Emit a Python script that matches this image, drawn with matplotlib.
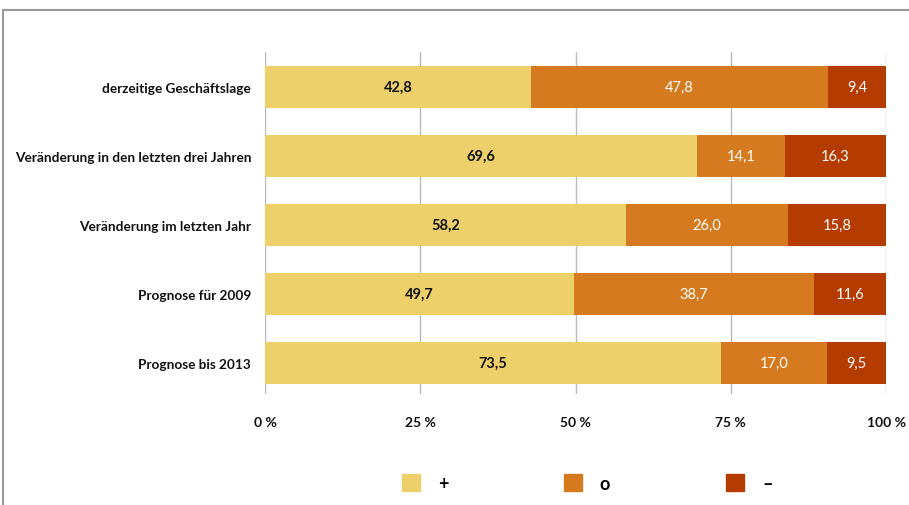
import matplotlib.pyplot as plt
from matplotlib.patches import Patch
from matplotlib.lines import Line2D

plt.rcParams['font.family'] = ['Lato', 'DejaVu Sans']

# Werte (%)
kategorien = ['derzeitige Geschäftslage',
              'Veränderung in den letzten drei Jahren',
              'Veränderung im letzten Jahr',
              'Prognose für 2009',
              'Prognose bis 2013']
plus = [42.8, 69.6, 58.2, 49.7, 73.5]
null = [47.8, 14.1, 26.0, 38.7, 17.0]
minus = [9.4, 16.3, 15.8, 11.6, 9.5]
ticks = [0, 25, 50, 75, 100]
tick_labels = ['0 %', '25 %', '50 %', '75 %', '100 %']

farben = ['#EDD06A', '#D57A1F', '#B53C00']
textfarben = ['#111111', 'white', 'white']

fig = plt.figure(figsize=(9.09, 5.06), dpi=100)
ax = fig.add_axes([265/909, 1-395/506, (886-265)/909, (395-53)/506])

y = range(len(kategorien))
links = [0]*len(kategorien)
for serie, farbe, tf in zip([plus, null, minus], farben, textfarben):
    ax.barh(y, serie, left=links, height=0.6, color=farbe, zorder=2)
    for i, (l, v) in enumerate(zip(links, serie)):
        ax.text(l + v/2, i, f'{v:.1f}'.replace('.', ','), ha='center', va='center',
                color=tf, fontsize=10.5, fontweight='bold' if tf != 'white' else 'normal', zorder=3)
    links = [a + b for a, b in zip(links, serie)]

ax.set_xlim(0, 100)
ax.set_ylim(4.45, -0.507)
ax.set_xticks(ticks)
ax.set_xticklabels(tick_labels, fontsize=10, fontweight='bold')
ax.set_yticks(list(y))
ax.set_yticklabels(kategorien, fontsize=9.8, fontweight='bold')
ax.tick_params(axis='both', length=0, colors='#111111')
ax.tick_params(axis='y', pad=10)
ax.tick_params(axis='x', pad=16)
ax.grid(axis='x', color='#BBBBBB', linewidth=1, zorder=0)
for s in ax.spines.values():
    s.set_visible(False)

# Rahmen oben und links
fig.add_artist(Line2D([3/909, 1], [1-11/506, 1-11/506], color='#999999', lw=1.5))
fig.add_artist(Line2D([3/909, 3/909], [0, 1-11/506], color='#999999', lw=1.5))

handles = [Patch(color=f) for f in farben]
fig.legend(handles, ['+', 'o', '–'], loc='center', bbox_to_anchor=(587/909, 1-484/506),
           ncol=3, frameon=False, handlelength=1.0, handleheight=1.0,
           handletextpad=1.0, columnspacing=6.4, prop={'weight': 'bold', 'size': 13})

fig.savefig('out.png', dpi=100)
